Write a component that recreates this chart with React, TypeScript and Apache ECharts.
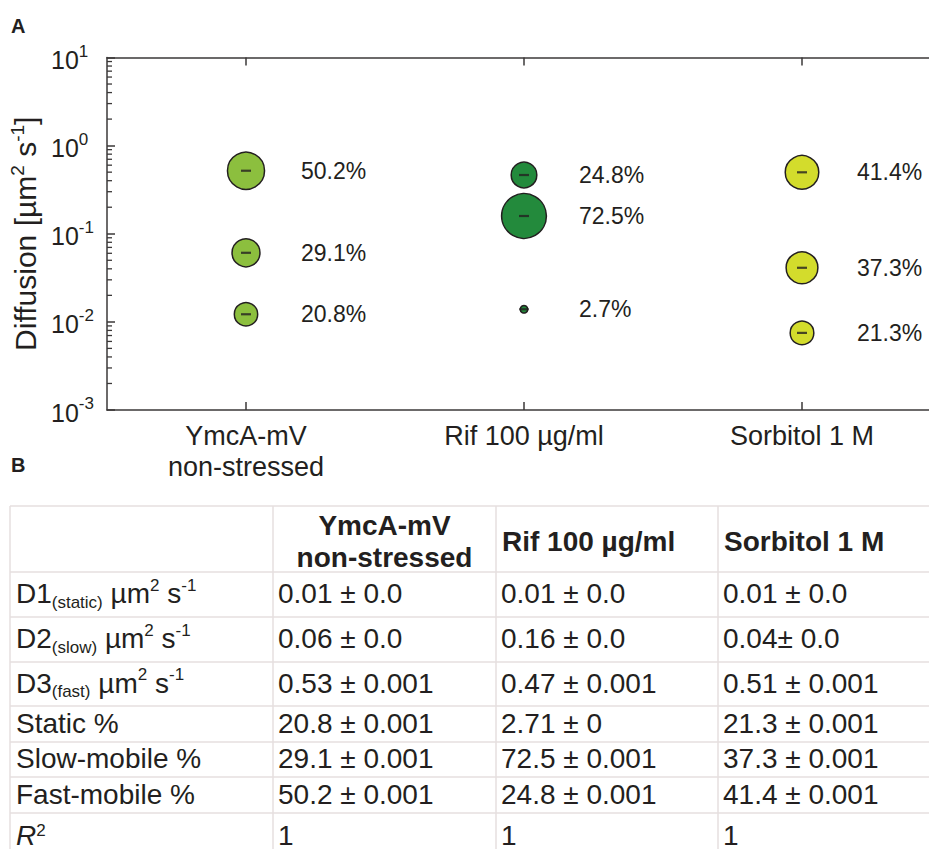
import React, { useEffect, useRef } from "react";
import * as echarts from "echarts";

// ---- data ----
const categories = ["YmcA-mV\nnon-stressed", "Rif 100 µg/ml", "Sorbitol 1 M"];
const staticD = [0.0122, 0.0139, 0.0075];
const slowD = [0.0608, 0.159, 0.0411];
const fastD = [0.519, 0.464, 0.498];
const staticPct = [20.8, 2.7, 21.3];
const slowPct = [29.1, 72.5, 37.3];
const fastPct = [50.2, 24.8, 41.4];
const bubbleColors = ["#8cbf3e", "#238a3c", "#d3dc2c"];

const tableHeaders = ["YmcA-mV\nnon-stressed", "Rif 100 µg/ml", "Sorbitol 1 M"];
const tableRowLabels = [
  "{n|D1}{sub|(static)}{n| µm}{sup|2}{n| s}{sup|-1}",
  "{n|D2}{sub|(slow)}{n| µm}{sup|2}{n| s}{sup|-1}",
  "{n|D3}{sub|(fast)}{n| µm}{sup|2}{n| s}{sup|-1}",
  "{n|Static %}",
  "{n|Slow-mobile %}",
  "{n|Fast-mobile %}",
  "{it|R}{sup|2}",
];
const colYmcA = ["0.01 ± 0.0", "0.06 ± 0.0", "0.53 ± 0.001", "20.8 ± 0.001", "29.1 ± 0.001", "50.2 ± 0.001", "1"];
const colRif = ["0.01 ± 0.0", "0.16 ± 0.0", "0.47 ± 0.001", "2.71 ± 0", "72.5 ± 0.001", "24.8 ± 0.001", "1"];
const colSorbitol = ["0.01 ± 0.0", "0.04± 0.0", "0.51 ± 0.001", "21.3 ± 0.001", "37.3 ± 0.001", "41.4 ± 0.001", "1"];

// ---- styles / layout ----
const FONT = "'Liberation Sans', Arial, Helvetica, sans-serif";
const TXT = "#231f20";
const AXIS = "#3b3838";
const GRID_LINE = "#e6dfdf";
const colX = [10, 273, 496, 718, 960];
const rowY = [506, 572, 617, 662, 706, 742, 777, 813, 863];

const bubbleSize = (pct: number) => Math.sqrt(pct) * 5.43 - 1.4;

export default function App() {
  const ref = useRef<HTMLDivElement>(null);
  useEffect(() => {
    const chart = echarts.init(ref.current!, null, { renderer: "svg" });

    const points: any[] = [];
    const dashes: any[] = [];
    const comps = [staticD, slowD, fastD];
    const pcts = [staticPct, slowPct, fastPct];
    for (let i = 0; i < categories.length; i++) {
      for (let k = 0; k < 3; k++) {
        points.push({ value: [i, comps[k][i], pcts[k][i]], itemStyle: { color: bubbleColors[i] } });
        dashes.push({ value: [i, comps[k][i], pcts[k][i]] });
      }
    }

    const minorTicks: number[] = [];
    for (let e = -3; e < 1; e++) {
      for (let m = 2; m <= 9; m++) minorTicks.push(m * Math.pow(10, e));
    }

    const graphic: any[] = [];
    graphic.push({ type: "text", x: 11, y: 16, style: { text: "A", fontFamily: FONT, fontSize: 20, fontWeight: "bold", fill: TXT } });
    graphic.push({ type: "text", x: 11, y: 455, style: { text: "B", fontFamily: FONT, fontSize: 20, fontWeight: "bold", fill: TXT } });
    // table lines
    for (const y of rowY) {
      graphic.push({ type: "line", shape: { x1: colX[0], y1: y, x2: 960, y2: y }, style: { stroke: GRID_LINE, lineWidth: 1.5 } });
    }
    for (const x of colX) {
      graphic.push({ type: "line", shape: { x1: x, y1: rowY[0], x2: x, y2: rowY[rowY.length - 1] }, style: { stroke: GRID_LINE, lineWidth: 1.5 } });
    }
    // header
    const hMid = (rowY[0] + rowY[1]) / 2;
    graphic.push({
      type: "text", x: (colX[1] + colX[2]) / 2, y: hMid + 2,
      style: { text: tableHeaders[0], fontFamily: FONT, fontSize: 28, fontWeight: "bold", fill: TXT, align: "center", verticalAlign: "middle", lineHeight: 32 },
    });
    for (let j = 1; j < 3; j++) {
      graphic.push({
        type: "text", x: colX[j + 1] + 6, y: hMid + 2,
        style: { text: tableHeaders[j], fontFamily: FONT, fontSize: 28, fontWeight: "bold", fill: TXT, align: "left", verticalAlign: "middle" },
      });
    }
    const richRow = {
      n: { fontFamily: FONT, fontSize: 28, fill: TXT, color: TXT, lineHeight: 34, verticalAlign: "middle" },
      it: { fontFamily: FONT, fontSize: 28, fontStyle: "italic", fill: TXT, color: TXT, lineHeight: 34, verticalAlign: "middle" },
      sub: { fontFamily: FONT, fontSize: 17, fill: TXT, color: TXT, lineHeight: 34, verticalAlign: "bottom" },
      sup: { fontFamily: FONT, fontSize: 17, fill: TXT, color: TXT, lineHeight: 34, verticalAlign: "top" },
    };
    const richLast = {
      n: { ...richRow.n, lineHeight: 26 },
      it: { ...richRow.it, lineHeight: 26 },
      sub: { ...richRow.sub, lineHeight: 26 },
      sup: { ...richRow.sup, lineHeight: 26 },
    };
    const cols = [colYmcA, colRif, colSorbitol];
    const nRows = tableRowLabels.length;
    for (let r = 0; r < nRows; r++) {
      const isLast = r === nRows - 1;
      const mid = isLast ? 835 : (rowY[r + 1] + rowY[r + 2]) / 2 - 1;
      graphic.push({
        type: "text", x: 16, y: mid,
        style: { text: tableRowLabels[r], rich: isLast ? richLast : richRow, fontFamily: FONT, fontSize: 28, fill: TXT, align: "left", verticalAlign: "middle" },
      });
      for (let j = 0; j < 3; j++) {
        graphic.push({
          type: "text", x: colX[j + 1] + 5, y: mid,
          style: { text: cols[j][r], fontFamily: FONT, fontSize: 28, lineHeight: isLast ? 26 : 34, fill: TXT, align: "left", verticalAlign: "middle" },
        });
      }
    }

    const option: any = {
      animation: false,
      backgroundColor: "#ffffff",
      grid: { left: 107, top: 57.5, right: -12, bottom: 439, containLabel: false, outerBoundsMode: "none" },
      xAxis: [
        {
          type: "category",
          data: categories,
          position: "bottom",
          axisLine: { show: true, onZero: false, lineStyle: { color: AXIS, width: 1.5 } },
          axisTick: { show: true, inside: true, alignWithLabel: true, length: 8, lineStyle: { color: AXIS, width: 1.5 } },
          axisLabel: { show: true, interval: 0, margin: 10, color: TXT, fontFamily: FONT, fontSize: 27, lineHeight: 31 },
          splitLine: { show: false },
        },
        {
          type: "category",
          data: categories,
          position: "top",
          axisLine: { show: true, onZero: false, lineStyle: { color: AXIS, width: 1.5 } },
          axisTick: { show: true, inside: true, alignWithLabel: true, length: 8, lineStyle: { color: AXIS, width: 1.5 } },
          axisLabel: { show: false },
          splitLine: { show: false },
        },
      ],
      yAxis: {
        type: "log",
        logBase: 10,
        min: 0.001,
        max: 10,
        axisLine: { show: true, lineStyle: { color: AXIS, width: 1.5 } },
        axisTick: { show: true, inside: true, length: 8, lineStyle: { color: AXIS, width: 1.5 } },
        splitLine: { show: false },
        axisLabel: {
          align: "left",
          margin: 56,
          fontFamily: FONT,
          fontSize: 25,
          color: TXT,
          formatter: (v: number) => `{b|10}{s|${Math.round(Math.log10(v))}}`,
          rich: {
            b: { fontFamily: FONT, fontSize: 25, color: TXT, lineHeight: 30, verticalAlign: "bottom" },
            s: { fontFamily: FONT, fontSize: 17, color: TXT, lineHeight: 30, verticalAlign: "top" },
          },
        },
        name: "{n|Diffusion [µm}{s|2}{n| s}{s|-1}{n|]}",
        nameLocation: "middle",
        nameRotate: 90,
        nameGap: 62,
        nameTextStyle: {
          fontFamily: FONT,
          fontSize: 30,
          color: TXT,
          rich: {
            n: { fontFamily: FONT, fontSize: 30, color: TXT, lineHeight: 34, verticalAlign: "middle" },
            s: { fontFamily: FONT, fontSize: 19, color: TXT, lineHeight: 34, verticalAlign: "top" },
          },
        },
      },
      series: [
        {
          type: "custom",
          silent: true,
          clip: false,
          data: minorTicks.map((v) => [0, v]),
          encode: { x: 0, y: 1 },
          renderItem: (params: any, api: any) => {
            const y = api.coord([0, api.value(1)])[1];
            const x0 = params.coordSys.x;
            return { type: "line", shape: { x1: x0, y1: y, x2: x0 + 5, y2: y }, style: { stroke: AXIS, lineWidth: 1.3 } };
          },
          z: 1,
        },
        {
          type: "scatter",
          data: points,
          symbol: "circle",
          symbolSize: (val: number[]) => bubbleSize(val[2]),
          itemStyle: { borderColor: TXT, borderWidth: 1.5, opacity: 1 },
          label: {
            show: true,
            position: "inside",
            align: "left",
            offset: [55, 0],
            formatter: (p: any) => `${p.value[2].toFixed(1)}%`,
            color: TXT,
            fontFamily: FONT,
            fontSize: 23,
          },
          emphasis: { disabled: true },
          z: 3,
        },
        {
          type: "scatter",
          data: dashes,
          symbol: "rect",
          symbolSize: (val: number[]) => [Math.min(10, bubbleSize(val[2]) + 2), 2.2],
          itemStyle: { color: TXT },
          emphasis: { disabled: true },
          z: 4,
        },
      ],
      graphic,
    };
    chart.setOption(option);
    return () => chart.dispose();
  }, []);
  return (
    <div
      ref={ref}
      style={{ position: "absolute", left: 0, top: 0, width: 929, height: 849, background: "#fff" }}
    />
  );
}
